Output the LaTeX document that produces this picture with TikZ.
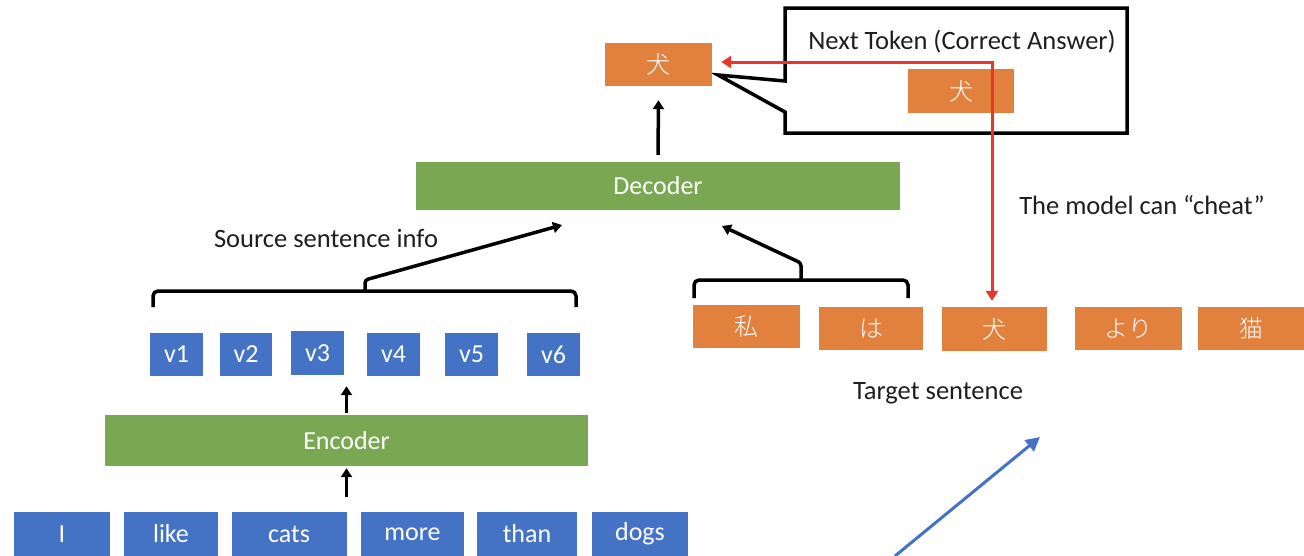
\documentclass[tikz,border=0pt]{standalone}
\usepackage{fontspec}
\setmainfont{Carlito}
\newfontfamily\cjk{Noto Sans CJK JP Light}
\usetikzlibrary{arrows.meta}
\definecolor{pporange}{RGB}{226,129,62}
\definecolor{ppblue}{RGB}{68,114,196}
\definecolor{ppgreen}{RGB}{122,168,82}
\definecolor{ppred}{RGB}{232,54,42}
\definecolor{txt}{RGB}{30,30,30}
\tikzset{
  obox/.style={fill=pporange, text=white, inner sep=0pt, font=\cjk\fontsize{24}{28}\selectfont},
  bbox/.style={fill=ppblue, text=white, inner sep=0pt, font=\fontsize{26}{30}\selectfont},
  gbox/.style={fill=ppgreen, text=white, inner sep=0pt, font=\fontsize{26}{30}\selectfont},
  lbl/.style={text=txt, inner sep=0pt, font=\fontsize{26.5}{30}\selectfont},
  blk/.style={draw=black, line width=3.5pt, -{Triangle[length=9pt,width=11pt]}},
  brk/.style={draw=black, line width=3.5pt, rounded corners=5pt},
  redarr/.style={draw=ppred, line width=3pt, {Triangle[length=10pt,width=12pt]}-{Triangle[length=10pt,width=12pt]}},
  bluearr/.style={draw=ppblue, line width=3pt, -{Triangle[length=14pt,width=14pt]}},
}
\begin{document}
\begin{tikzpicture}[x=1pt,y=-1pt]
\useasboundingbox (0,0) rectangle (1304,555);
% callout
\draw[line width=3.5pt, line join=miter] (785,8) -- (1127,8) -- (1127,133) -- (785,133) -- (785,112) -- (718,75) -- (785,81) -- cycle;
\node[lbl] (nt) at (962,42) {Next Token (Correct Answer)};
\node[obox, minimum width=106pt, minimum height=44pt] (ans) at (961,91) {犬};
% top output
\node[obox, minimum width=107pt, minimum height=43pt] (out) at (658.5,64.5) {犬};
% decoder / encoder
\node[gbox, minimum width=484pt, minimum height=48pt] (dec) at (658,186) {Decoder};
\node[gbox, minimum width=483pt, minimum height=51pt] (enc) at (346.5,440.5) {Encoder};
% v boxes
\node[bbox, minimum width=53pt, minimum height=43pt] (v1) at (176.5,354.5) {v1};
\node[bbox, minimum width=52pt, minimum height=43pt] (v2) at (246,354.5) {v2};
\node[bbox, minimum width=53pt, minimum height=44pt] (v3) at (317.5,353) {v3};
\node[bbox, minimum width=53pt, minimum height=43pt] (v4) at (393.5,354.5) {v4};
\node[bbox, minimum width=53pt, minimum height=43pt] (v5) at (471.5,354.5) {v5};
\node[bbox, minimum width=53pt, minimum height=43pt] (v6) at (553.5,354.5) {v6};
% source words
\node[bbox, minimum width=96pt, minimum height=44pt] (w1) at (62,534) {I};
\node[bbox, minimum width=94pt, minimum height=44pt] (w2) at (171,534) {like};
\node[bbox, minimum width=115pt, minimum height=44pt] (w3) at (289,534) {cats};
\node[bbox, minimum width=103pt, minimum height=44pt] (w4) at (412.5,534) {more};
\node[bbox, minimum width=100pt, minimum height=44pt] (w5) at (527,534) {than};
\node[bbox, minimum width=96pt, minimum height=44pt] (w6) at (640,534) {dogs};
% target words
\node[obox, minimum width=107pt, minimum height=43pt] (t1) at (746.5,326.5) {私};
\node[obox, minimum width=104pt, minimum height=43pt] (t2) at (871,328.5) {は};
\node[obox, minimum width=105pt, minimum height=44pt] (t3) at (994.5,329) {犬};
\node[obox, minimum width=107pt, minimum height=43pt] (t4) at (1128.5,328.5) {より};
\node[obox, minimum width=106pt, minimum height=43pt] (t5) at (1251,328.5) {猫};
% labels
\node[lbl] (src) at (326,238) {Source sentence info};
\node[lbl] (cheat) at (1142,205) {The model can “cheat”};
\node[lbl] (tgt) at (938,393) {Target sentence};
% arrows
\draw[blk] ([yshift=7pt]dec.north) -- ([yshift=-14pt]out.south);
\draw[blk] ([yshift=15pt]w3.north -| enc.north) -- ([yshift=-2pt]enc.south);
\draw[blk] ([yshift=2pt]enc.north) -- ([yshift=-11pt]v3.south -| enc.north);
% source bracket
\draw[brk] (153,307) -- (153,291) -- (576,291) -- (576,307);
\coordinate (smid) at (365,291);
\coordinate (sin) at (562,225);
\draw[blk, rounded corners=3pt] (smid) -- (365,280) -- (sin);
% target bracket
\draw[brk] (694,298) -- (694,280) -- (908,280) -- (908,298);
\coordinate (tmid) at (801,280);
\coordinate (tin) at (722,226);
\draw[blk, rounded corners=3pt] (tmid) -- (801,263) -- (tin);
% red cheat arrow
\coordinate (rc) at (992,62);
\draw[redarr] ([yshift=6pt]t3.north -| rc) -- (rc) -- ([xshift=9pt]out.east |- rc);
% blue arrow
\coordinate (bstart) at (895,556);
\coordinate (bend) at (1040,437);
\draw[bluearr] (bstart) -- (bend);
\end{tikzpicture}
\end{document}
